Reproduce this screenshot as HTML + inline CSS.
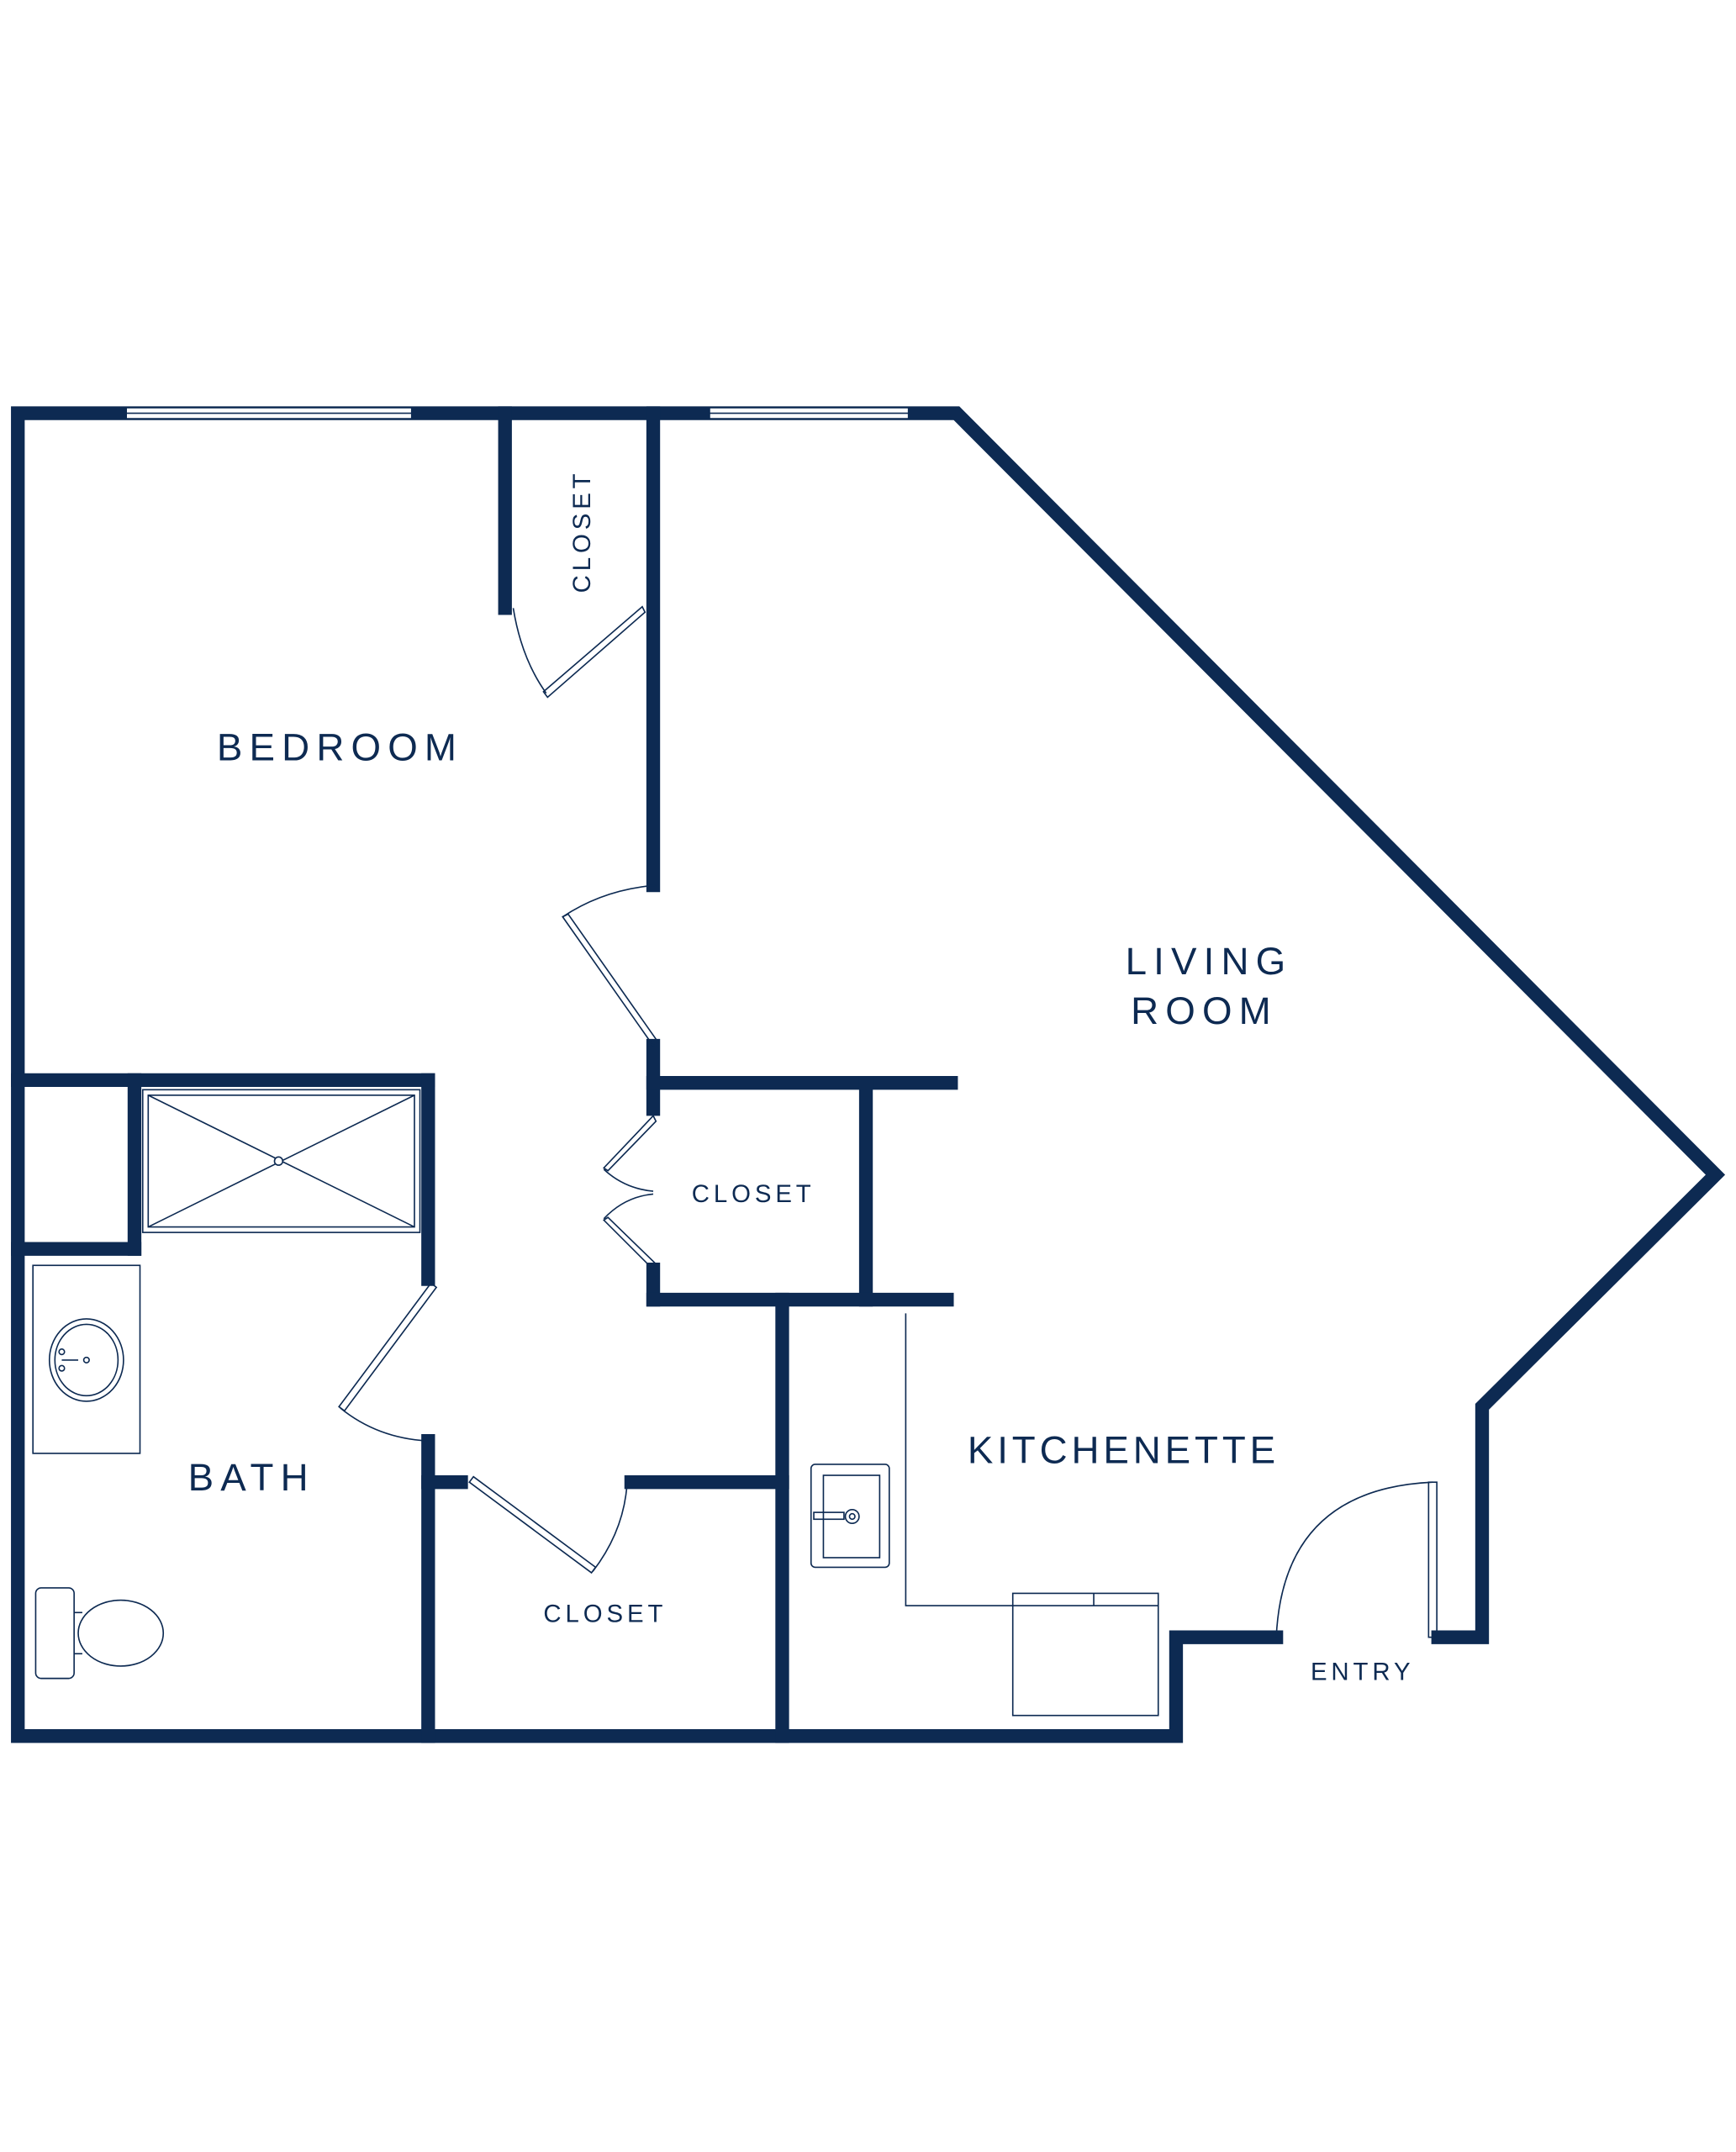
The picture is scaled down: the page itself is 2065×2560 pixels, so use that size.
<!DOCTYPE html>
<html><head><meta charset="utf-8"><style>
html,body{margin:0;padding:0;background:#fff}
svg{display:block}
text{font-family:"Liberation Sans",sans-serif;fill:#0d2a52}
</style></head><body>
<svg width="2065" height="2560" viewBox="0 0 1265 1568" xmlns="http://www.w3.org/2000/svg">
<g stroke="#0d2a52" stroke-width="10" fill="none" stroke-linecap="square">
<polyline points="1048,1193 1080,1193 1080,1025 1250,856 697,301 13,301 13,1265 857,1265 857,1193 930,1193"/>
<line x1="368" y1="301" x2="368" y2="443"/>
<line x1="476" y1="301" x2="476" y2="645"/>
<line x1="476" y1="762" x2="476" y2="808"/>
<line x1="476" y1="789" x2="693" y2="789"/>
<line x1="631" y1="789" x2="631" y2="947"/>
<line x1="476" y1="925" x2="476" y2="947"/>
<line x1="476" y1="947" x2="690" y2="947"/>
<line x1="570" y1="947" x2="570" y2="1265"/>
<line x1="13" y1="787" x2="312" y2="787"/>
<line x1="312" y1="787" x2="312" y2="932"/>
<line x1="98" y1="787" x2="98" y2="910"/>
<line x1="13" y1="910" x2="98" y2="910"/>
<line x1="312" y1="1050" x2="312" y2="1265"/>
<line x1="312" y1="1080" x2="336" y2="1080"/>
<line x1="460" y1="1080" x2="570" y2="1080"/>
</g>
<g fill="#fff" stroke="#0d2a52" stroke-width="1">
<rect x="92" y="297" width="208" height="8"/>
<rect x="517" y="297" width="145" height="8"/>
</g>
<g stroke="#0d2a52" stroke-width="1" fill="none">
<line x1="92" y1="301" x2="300" y2="301"/><line x1="517" y1="301" x2="662" y2="301"/>
<path d="M374,443 Q380,480 398,505"/>
<polygon points="396,504 468,442 470,446 399,508"/>
<path d="M478,645 Q440,648 410,668"/>
<polygon points="410,668 414,666 480,760 476,762"/>
<polygon points="476,813 440,851 443,853 478,817"/>
<polygon points="476,925 440,889 443,887 478,921"/>
<path d="M440,852 Q455,866 476,868"/>
<path d="M440,888 Q455,872 476,870"/>
<polygon points="247,1025 314,935 318,938 251,1028"/>
<path d="M248,1026 Q275,1048 312,1050"/>
<polygon points="342,1080 345,1076 434,1142 431,1146"/>
<path d="M457,1080 Q455,1115 432,1145"/>
<path d="M930,1193 Q935,1085 1044,1080"/>
<rect x="1041" y="1080" width="6" height="113"/>
<rect x="104" y="794" width="202" height="104"/>
<rect x="108" y="798" width="194" height="96"/>
<line x1="108" y1="798" x2="302" y2="894"/><line x1="302" y1="798" x2="108" y2="894"/>
<circle cx="203" cy="846" r="3" fill="#fff"/>
<rect x="24" y="922" width="78" height="137"/>
<ellipse cx="63" cy="991" rx="27" ry="30"/>
<ellipse cx="63" cy="991" rx="23" ry="26"/>
<circle cx="63" cy="991" r="2"/><circle cx="45" cy="985" r="2"/><circle cx="45" cy="997" r="2"/>
<line x1="45" y1="991" x2="57" y2="991"/>
<rect x="26" y="1157" width="28" height="66" rx="4"/>
<ellipse cx="88" cy="1190" rx="31" ry="24"/>
<line x1="54" y1="1175" x2="60" y2="1175"/><line x1="54" y1="1205" x2="60" y2="1205"/>
<polyline points="660,957 660,1170 738,1170"/>
<rect x="591" y="1067" width="57" height="75" rx="3"/>
<rect x="600" y="1075" width="41" height="60"/>
<circle cx="621" cy="1105" r="5"/><circle cx="621" cy="1105" r="2"/>
<rect x="593" y="1102" width="22" height="5"/>
<rect x="738" y="1161" width="106" height="89"/>
<line x1="738" y1="1170" x2="844" y2="1170"/>
<line x1="797" y1="1161" x2="797" y2="1170"/>
</g>
<g font-size="28" letter-spacing="5">
<text x="158" y="554">BEDROOM</text>
<text x="820" y="710">LIVING</text>
<text x="824" y="746">ROOM</text>
<text x="705" y="1066" letter-spacing="3">KITCHENETTE</text>
<text x="137" y="1086">BATH</text>
</g>
<g font-size="18" letter-spacing="3">
<text x="504" y="876">CLOSET</text>
<text x="396" y="1182">CLOSET</text>
<text x="955" y="1224">ENTRY</text>
<text transform="translate(430,432) rotate(-90)">CLOSET</text>
</g>
</svg>
</body></html>
